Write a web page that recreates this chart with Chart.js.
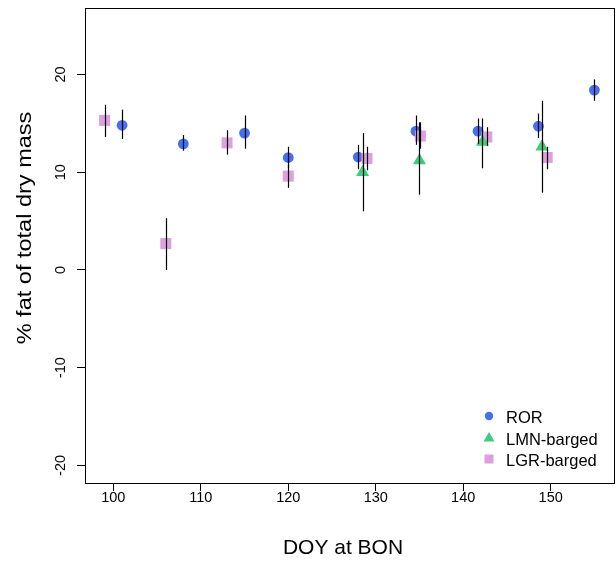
<!DOCTYPE html>
<html lang="en">
<head>
    <meta charset="UTF-8">
    <script src="https://cdn.jsdelivr.net/npm/chart.js"></script>
    <title>% fat of total dry mass</title>
    <style>
        body { margin: 0; background: #fff; }
        #wrap { width: 616px; height: 565px; }
    </style>
</head>
<body>
    <div id="wrap"><canvas id="fat-chart" width="616" height="565"></canvas></div>

    <script>
        const xTicks = [100, 110, 120, 130, 140, 150];
        const yTicks = [-20, -10, 0, 10, 20];

        // ROR
        const rorDoy  = [101, 108, 115, 120, 128, 134.6, 141.7, 148.6, 155];
        const rorFat  = [14.8, 12.9, 14.0, 11.5, 11.55, 14.2, 14.2, 14.7, 18.4];
        const rorLow  = [13.4, 12.2, 12.4, 10.4, 10.3, 12.8, 12.9, 13.5, 17.3];
        const rorHigh = [16.4, 13.8, 15.8, 12.6, 12.8, 15.8, 15.5, 16.0, 19.5];

        // LMN-barged
        const lmnDoy  = [128.5, 135, 142.2, 149];
        const lmnFat  = [10.0, 11.2, 13.1, 12.6];
        const lmnLow  = [6.0, 7.7, 10.4, 7.9];
        const lmnHigh = [14.0, 15.1, 15.5, 17.3];

        // LGR-barged
        const lgrDoy  = [99, 106, 113, 120, 129, 135.1, 142.7, 149.6];
        const lgrFat  = [15.3, 2.7, 13.0, 9.6, 11.4, 13.7, 13.6, 11.5];
        const lgrLow  = [13.6, 0.0, 11.8, 8.4, 10.2, 12.4, 12.7, 10.3];
        const lgrHigh = [16.9, 5.3, 14.3, 10.8, 12.6, 15.1, 14.6, 12.6];

        const xTitle = 'DOY at BON';
        const yTitle = '% fat of total dry mass';

        const FONT = 'Liberation Sans, Arial, Helvetica, sans-serif';
        const BLUE = '#4270EE';
        const GREEN = '#3DCC7C';
        const PINK = '#DDA0DD';

        function toPoints(xs, ys, lo, hi) {
            return xs.map((x, i) => ({ x: x, y: ys[i], lo: lo[i], hi: hi[i] }));
        }

        // error bars + box + tick labels + titles + legend
        const extras = {
            id: 'extras',
            afterDatasetsDraw(chart) {
                const ctx = chart.ctx;
                const xs = chart.scales.x, ys = chart.scales.y;
                ctx.save();
                ctx.strokeStyle = '#000';
                ctx.lineWidth = 1.2;
                chart.data.datasets.forEach(ds => {
                    ds.data.forEach(p => {
                        const px = Math.round(xs.getPixelForValue(p.x)) + 0.5;
                        ctx.beginPath();
                        ctx.moveTo(px, ys.getPixelForValue(p.lo));
                        ctx.lineTo(px, ys.getPixelForValue(p.hi));
                        ctx.stroke();
                    });
                });
                ctx.restore();
            },
            afterDraw(chart) {
                const ctx = chart.ctx;
                const a = chart.chartArea;
                const xs = chart.scales.x, ys = chart.scales.y;
                ctx.save();
                ctx.strokeStyle = '#000';
                ctx.lineWidth = 1;
                ctx.strokeRect(Math.round(a.left) + 0.5, Math.round(a.top) + 0.5,
                    Math.round(a.right - a.left), Math.round(a.bottom - a.top));

                ctx.fillStyle = '#000';
                ctx.font = '14.5px ' + FONT;
                ctx.textAlign = 'center';
                ctx.textBaseline = 'middle';
                xTicks.forEach(v => {
                    ctx.fillText(String(v), xs.getPixelForValue(v), a.bottom + 15);
                });
                yTicks.forEach(v => {
                    ctx.save();
                    ctx.translate(61, ys.getPixelForValue(v));
                    ctx.rotate(-Math.PI / 2);
                    ctx.fillText(String(v), 0, 0);
                    ctx.restore();
                });

                // axis titles
                ctx.font = '21px ' + FONT;
                ctx.fillText(xTitle, 343, 548);
                ctx.save();
                ctx.translate(25, 228);
                ctx.rotate(-Math.PI / 2);
                ctx.scale(1.12, 1);
                ctx.fillText(yTitle, 0, 0);
                ctx.restore();

                // legend
                const rows = [
                    { label: 'ROR', color: BLUE, shape: 'circle', y: 416 },
                    { label: 'LMN-barged', color: GREEN, shape: 'triangle', y: 438 },
                    { label: 'LGR-barged', color: PINK, shape: 'rect', y: 459 }
                ];
                ctx.font = '16.5px ' + FONT;
                ctx.textAlign = 'left';
                rows.forEach(r => {
                    const sx = 489;
                    ctx.fillStyle = r.color;
                    ctx.beginPath();
                    if (r.shape === 'circle') {
                        ctx.arc(sx, r.y, 4.2, 0, Math.PI * 2);
                    } else if (r.shape === 'triangle') {
                        ctx.moveTo(sx, r.y - 6);
                        ctx.lineTo(sx + 5.5, r.y + 3.5);
                        ctx.lineTo(sx - 5.5, r.y + 3.5);
                        ctx.closePath();
                    } else {
                        ctx.rect(sx - 4.5, r.y - 4.5, 9, 9);
                    }
                    ctx.fill();
                    ctx.fillStyle = '#000';
                    ctx.fillText(r.label, 506, r.y + 2.5);
                });
                ctx.restore();
            }
        };

        const ctx = document.getElementById('fat-chart');

        new Chart(ctx, {
            type: 'scatter',
            data: {
                datasets: [
                    {
                        label: 'LMN-barged',
                        data: toPoints(lmnDoy, lmnFat, lmnLow, lmnHigh),
                        pointStyle: 'triangle',
                        pointRadius: 7.5,
                        backgroundColor: GREEN,
                        borderWidth: 0
                    },
                    {
                        label: 'LGR-barged',
                        data: toPoints(lgrDoy, lgrFat, lgrLow, lgrHigh),
                        pointStyle: 'rect',
                        pointRadius: 7.8,
                        backgroundColor: PINK,
                        borderWidth: 0
                    },
                    {
                        label: 'ROR',
                        data: toPoints(rorDoy, rorFat, rorLow, rorHigh),
                        pointStyle: 'circle',
                        pointRadius: 5.4,
                        backgroundColor: BLUE,
                        borderWidth: 0
                    }
                ]
            },
            options: {
                responsive: false,
                animation: false,
                layout: { autoPadding: false, padding: { top: 8, right: 2, left: 0, bottom: 0 } },
                plugins: {
                    legend: { display: false },
                    tooltip: { enabled: false }
                },
                scales: {
                    x: {
                        type: 'linear',
                        min: 96.76,
                        max: 157.24,
                        afterBuildTicks: s => { s.ticks = xTicks.map(v => ({ value: v })); },
                        afterFit: s => { s.height = 82; },
                        grid: { drawOnChartArea: false, drawTicks: true, tickLength: 8, color: '#000' },
                        border: { display: false },
                        ticks: { display: false },
                        title: { display: false }
                    },
                    y: {
                        type: 'linear',
                        min: -21.8,
                        max: 26.8,
                        afterBuildTicks: s => { s.ticks = yTicks.map(v => ({ value: v })); },
                        afterFit: s => { s.width = 85; },
                        grid: { drawOnChartArea: false, drawTicks: true, tickLength: 8, color: '#000' },
                        border: { display: false },
                        ticks: { display: false },
                        title: { display: false }
                    }
                }
            },
            plugins: [extras]
        });
    </script>
</body>
</html>
